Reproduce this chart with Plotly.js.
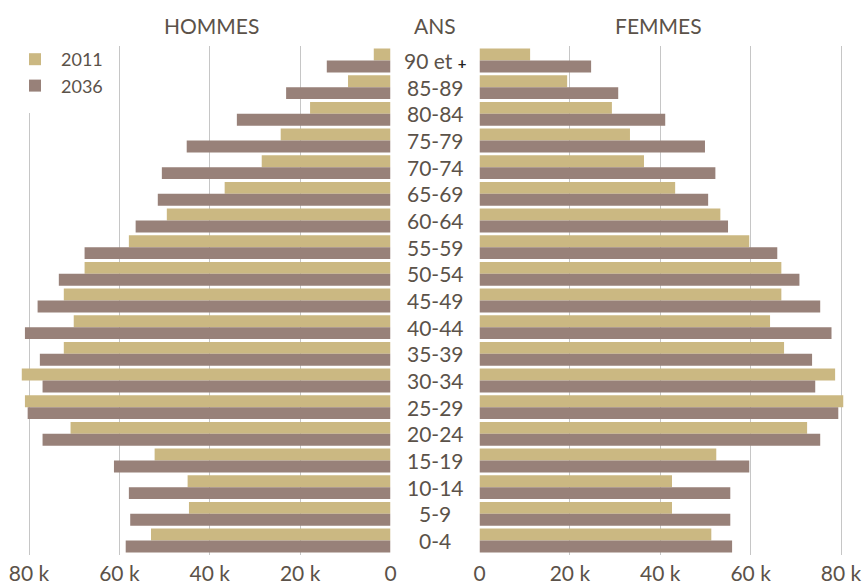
<!DOCTYPE html>
<html>
<head>
<meta charset="utf-8">
<script src="https://cdn.plot.ly/plotly-3.0.1.min.js"></script>
<style>
html,body{margin:0;padding:0;background:#fff;}
#chart{width:866px;height:584px;}
</style>
</head>
<body>
<div id="chart"></div>
<script>
// Age groups, top to bottom
const ages = ["90 et +","85-89","80-84","75-79","70-74","65-69","60-64","55-59","50-54","45-49",
              "40-44","35-39","30-34","25-29","20-24","15-19","10-14","5-9","0-4"];
const ageLabels = ["90 et <span style='font-size:15px;color:#222'><b>+</b></span>","85-89","80-84","75-79","70-74","65-69","60-64","55-59","50-54","45-49",
              "40-44","35-39","30-34","25-29","20-24","15-19","10-14","5-9","0-4"];

// Hommes
const men2011 = [3700, 9400, 17800, 24300, 28500, 36700, 49500, 57900, 67700, 72300,
                 70100, 72300, 81600, 80900, 70800, 52200, 44900, 44600, 53000];
const men2036 = [14100, 23100, 34000, 45100, 50600, 51500, 56400, 67700, 73400, 78100,
                 80900, 77600, 77000, 80300, 77000, 61200, 57900, 57600, 58600];
// Femmes
const women2011 = [11200, 19400, 29300, 33300, 36400, 43300, 53300, 59700, 66800, 66800,
                   64300, 67400, 78700, 80500, 72500, 52400, 42600, 42600, 51300];
const women2036 = [24700, 30700, 41100, 49900, 52200, 50600, 55000, 65900, 70800, 75400,
                   77900, 73600, 74300, 79400, 75400, 59700, 55500, 55500, 55900];

const seriesNames = ["2011", "2036"];
const tickVals = [0, 20000, 40000, 60000, 80000];
const tickText = ["0", "20 k", "40 k", "60 k", "80 k"];
const headers = ["HOMMES", "ANS", "FEMMES"];

const COL2011 = "#cbb882";
const COL2036 = "#988179";
const TXT = "#5b5249";
const FONT = "Lato, 'Open Sans', sans-serif";

const traces = [
  {type:"bar", orientation:"h", name:seriesNames[0], x:men2011, y:ages, xaxis:"x", yaxis:"y",
   marker:{color:COL2011}, legendgroup:"a", hoverinfo:"x+y"},
  {type:"bar", orientation:"h", name:seriesNames[1], x:men2036, y:ages, xaxis:"x", yaxis:"y",
   marker:{color:COL2036}, legendgroup:"b", hoverinfo:"x+y"},
  {type:"bar", orientation:"h", name:seriesNames[0], x:women2011, y:ages, xaxis:"x2", yaxis:"y",
   marker:{color:COL2011}, legendgroup:"a", showlegend:false, hoverinfo:"x+y"},
  {type:"bar", orientation:"h", name:seriesNames[1], x:women2036, y:ages, xaxis:"x2", yaxis:"y",
   marker:{color:COL2036}, legendgroup:"b", showlegend:false, hoverinfo:"x+y"}
];

const W = 866;
const PH = 509; // plot height in px
const axisCommon = {
  tickvals: tickVals, ticktext: tickText,
  showgrid: true, gridcolor: "#c6c6c6", gridwidth: 1,
  zeroline: false, showline: false, ticks: "",
  tickfont: {family: FONT, size: 21, color: TXT},
  ticklabelstandoff: 4,
  fixedrange: true
};

const annotations = [];
ages.forEach((a, i) => {
  annotations.push({
    x: 435 / W, xref: "paper", xanchor: "center",
    y: a, yref: "y", yanchor: "middle",
    text: ageLabels[i], showarrow: false,
    font: {family: FONT, size: 21, color: TXT}
  });
});
const headerX = [211, 435, 658];
headers.forEach((h, i) => {
  annotations.push({
    x: headerX[i] / W, xref: "paper", xanchor: "center",
    y: 1 + 21 / PH, yref: "paper", yanchor: "middle",
    text: h, showarrow: false,
    font: {family: FONT, size: 21, color: TXT}
  });
});

const layout = {
  width: 866, height: 584,
  margin: {l: 0, r: 0, t: 46, b: 29, pad: 0},
  paper_bgcolor: "#fff", plot_bgcolor: "rgba(0,0,0,0)",
  barmode: "group", bargap: 0.104, bargroupgap: 0,
  font: {family: FONT, color: TXT},
  showlegend: true,
  legend: {
    x: 0, xanchor: "left", y: 1 + 14 / PH, yanchor: "top",
    bgcolor: "#ffffff", bordercolor: "#ffffff", borderwidth: 9,
    font: {family: FONT, size: 18, color: TXT},
    itemwidth: 42, traceorder: "normal"
  },
  xaxis: Object.assign({}, axisCommon, {
    domain: [0, 390.5 / W], range: [86418, 0], anchor: "y"
  }),
  xaxis2: Object.assign({}, axisCommon, {
    domain: [479.5 / W, 1], range: [0, 85533], anchor: "y"
  }),
  yaxis: {
    type: "category", categoryorder: "array", categoryarray: ages,
    autorange: "reversed", showticklabels: false, showgrid: false,
    zeroline: false, showline: false, ticks: "", domain: [0, 1], fixedrange: true
  },
  annotations: annotations
};

Plotly.newPlot("chart", traces, layout, {displayModeBar: false, staticPlot: true});
</script>
</body>
</html>
